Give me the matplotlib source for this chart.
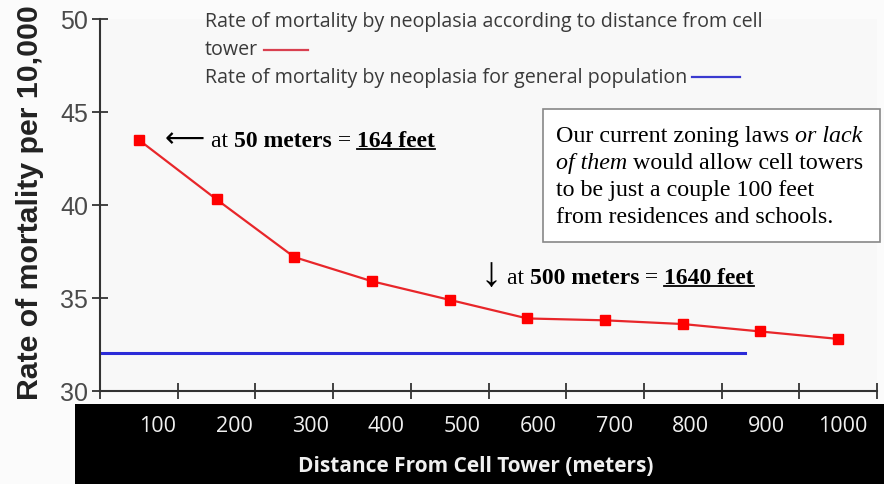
import matplotlib
matplotlib.use("Agg")
import matplotlib.pyplot as plt
from matplotlib.lines import Line2D
from matplotlib.patches import Rectangle

categories = ["100", "200", "300", "400", "500", "600", "700", "800", "900", "1000"]
tower_rate = [43.5, 40.3, 37.2, 35.9, 34.9, 33.9, 33.8, 33.6, 33.2, 32.8]
general_rate = 32.05
general_extent = 8.3  # in category units from axis start
y_ticks = [30, 35, 40, 45, 50]

W, H = 884, 485
fig = plt.figure(figsize=(W / 100, H / 100), dpi=100)
fig.patch.set_facecolor("#fbfbfb")
renderer = fig.canvas.get_renderer()

SERIF = ["Liberation Serif", "DejaVu Serif", "DejaVu Sans"]

def fit_text(x, y, s, target_w, **kw):
    t = fig.text(x / W, 1 - y / H, s, **kw)
    fs = t.get_fontsize()
    w = t.get_window_extent(renderer).width
    t.set_fontsize(fs * target_w / w)
    return t

# black band for x labels
band = fig.add_axes([75 / W, 0, (W - 75) / W, (485 - 405) / H])
band.set_facecolor("black")
band.set_xticks([]); band.set_yticks([])
for s in band.spines.values():
    s.set_visible(False)

ax_left, ax_right, ax_top, ax_bot = 100, 877, 20, 392
ax = fig.add_axes([ax_left / W, (H - ax_bot) / H, (ax_right - ax_left) / W, (ax_bot - ax_top) / H])
ax.set_facecolor("#f8f8f8")
n = len(categories)
xs = [i + 0.5 for i in range(n)]
ax.plot(xs, tower_rate, color="#e8262a", lw=1.6, marker="s", ms=7, mfc="#ff0000", mec="#ff0000", zorder=3)
ax.plot([0, general_extent], [general_rate, general_rate], color="#2b2bd8", lw=2.2, zorder=2)
ax.set_xlim(0, n)
ax.set_ylim(30, 50)
ax.set_xticks(range(n + 1))
ax.set_xticklabels([])
ax.set_yticks(y_ticks)
ax.set_yticklabels([str(t) for t in y_ticks], fontsize=18, color="#4a4a4a", family="Liberation Sans")
ax.tick_params(axis="both", direction="inout", length=11, width=1.3, color="#333333")
ax.tick_params(axis="y", pad=3)
for s in ["top", "right"]:
    ax.spines[s].set_visible(False)
for s in ["left", "bottom"]:
    ax.spines[s].set_color("#333333")
    ax.spines[s].set_linewidth(1.5)

# x tick labels in black band
for i, lab in enumerate(categories):
    xpix = 158 + i * 76.1
    fig.text(xpix / W, 1 - 427 / H, lab, color="#f0f0f0", fontsize=15.5, family="Open Sans",
             ha="center", va="center")
t = fit_text(476, 467, "Distance From Cell Tower (meters)", 352, color="#f0f0f0", fontsize=13,
             family="Open Sans", weight="bold", ha="center", va="center")

yl = fig.text(30 / W, 1 - 203 / H, "Rate of mortality per 10,000", rotation=90, fontsize=15.5,
              weight="bold", family="Liberation Sans", color="#222222", ha="center", va="center")
h = yl.get_window_extent(renderer).height
yl.set_fontsize(15.5 * 395 / h)

# legend text
leg_col = "#3a3a3a"
l1 = fit_text(205, 22, "Rate of mortality by neoplasia according to distance from cell", 555,
              fontsize=12, family="Open Sans", color=leg_col, va="center")
lfs = l1.get_fontsize()
t2 = fig.text(205 / W, 1 - 50 / H, "tower", fontsize=lfs, family="Open Sans", color=leg_col, va="center")
t3 = fig.text(205 / W, 1 - 78 / H, "Rate of mortality by neoplasia for general population",
              fontsize=lfs, family="Open Sans", color=leg_col, va="center")
e2 = t2.get_window_extent(renderer).x1
e3 = t3.get_window_extent(renderer).x1
fig.add_artist(Line2D([(e2 + 6) / W, (e2 + 50) / W], [1 - 51 / H, 1 - 51 / H], color="#d94050", lw=1.6))
fig.add_artist(Line2D([(e3 + 5) / W, (e3 + 53) / W], [1 - 78 / H, 1 - 78 / H], color="#3a3ad0", lw=1.6))


def rich(x0, yc, pieces, size=14, family=SERIF):
    x = x0
    for txt, weight, style, under in pieces:
        t = fig.text(x / W, 1 - yc / H, txt, fontsize=size, family=family,
                     weight=weight, style=style, va="baseline", color="black")
        bb = t.get_window_extent(renderer)
        if under:
            uy = 1 - (yc + 3) / H
            fig.add_artist(Line2D([x / W, (x + bb.width) / W], [uy, uy], color="black", lw=1.3))
        x += bb.width
    return x

# arrows
a1 = fig.text(185 / W, 1 - 139 / H, "\u27f5", family=["DejaVu Sans"], fontsize=20,
              ha="center", va="center", color="black")
w1 = a1.get_window_extent(renderer).width
a1.set_fontsize(20 * 40 / w1)
a2 = fig.text(491 / W, 1 - 276 / H, "\u2193", family=SERIF, fontsize=20,
              ha="center", va="center", color="black")
h2 = a2.get_window_extent(renderer).height
a2.set_fontsize(20 * 38 / h2)

rich(211, 147, [("at ", "normal", "normal", False), ("50 meters", "bold", "normal", False),
                (" = ", "normal", "normal", False), ("164 feet", "bold", "normal", True)], size=17)
rich(507, 284, [("at ", "normal", "normal", False),
                ("500 meters", "bold", "normal", False), (" = ", "normal", "normal", False),
                ("1640 feet", "bold", "normal", True)], size=17)

# annotation box
fig.add_artist(Rectangle((543 / W, 1 - 243 / H), (880 - 543) / W, (243 - 110) / H,
                         transform=fig.transFigure, facecolor="white", edgecolor="#888888", lw=1.2))
rich(556, 142, [("Our current zoning laws ", "normal", "normal", False), ("or lack", "normal", "italic", False)], size=17.3)
rich(556, 169, [("of them", "normal", "italic", False), (" would allow cell towers", "normal", "normal", False)], size=17.3)
rich(556, 196, [("to be just a couple 100 feet", "normal", "normal", False)], size=17.3)
rich(556, 223, [("from residences and schools.", "normal", "normal", False)], size=17.3)

fig.savefig("out.png", dpi=100, facecolor=fig.get_facecolor())
